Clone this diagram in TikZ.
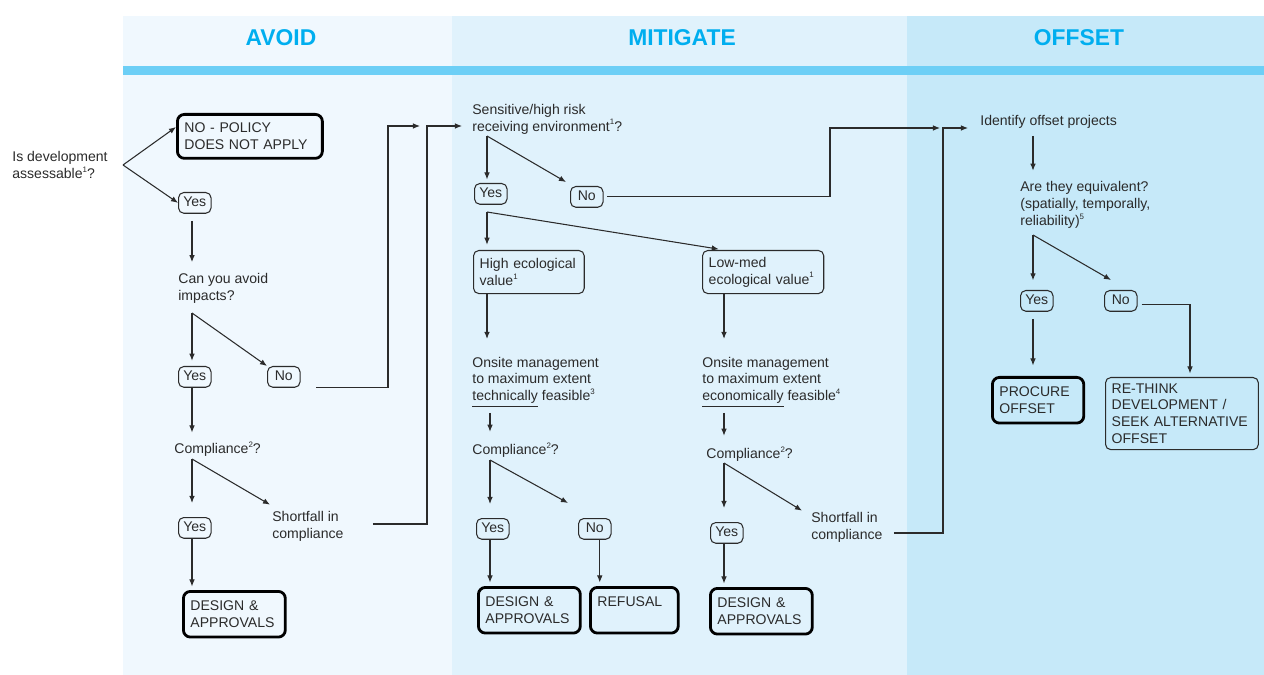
\documentclass[tikz,border=0pt]{standalone}
\usepackage{fontspec}
\setmainfont{Liberation Sans}
\usetikzlibrary{arrows.meta,calc}
\definecolor{avoidbg}{HTML}{F0F8FE}
\definecolor{mitbg}{HTML}{E0F2FC}
\definecolor{offbg}{HTML}{C6E9F9}
\definecolor{stripe}{HTML}{6DCFF6}
\definecolor{headblue}{HTML}{00AEEF}
\definecolor{ink}{HTML}{2B2B2B}
\newcommand{\fnote}[1]{\raisebox{0.85ex}{\fontsize{4.5}{5}\selectfont #1}}

\begin{document}
\begin{tikzpicture}[x=0.02cm,y=-0.02cm,
	every node/.style={font=\fontsize{8}{9.6}\selectfont, text=ink},
	txt/.style={anchor=west, inner sep=0pt, align=left},
	ans/.style={draw=ink, line width=0.6pt, rounded corners=3pt, anchor=north west, inner xsep=2.5pt, inner ysep=2pt, text height=6pt, text depth=1.8pt, minimum width=18.5pt},
	val/.style={draw=ink, line width=0.6pt, rounded corners=3pt, anchor=north west, inner xsep=3.5pt, align=left, minimum height=24.5pt},
	fin/.style={draw=black, line width=1.6pt, rounded corners=4pt, anchor=north west, inner xsep=4pt, align=left, minimum height=26pt},
	head/.style={font=\fontsize{13}{15}\selectfont\bfseries, text=headblue},
	arr/.style={draw=ink, line width=0.6pt, -{Latex[length=4pt,width=3.2pt]}}]
		\useasboundingbox (0,0) rectangle (1264,675);
		% columns
		\fill[avoidbg] (123,16) rectangle (452,675);
		\fill[mitbg] (452,16) rectangle (907,675);
		\fill[offbg] (907,16) rectangle (1264,675);
		\fill[stripe] (123,66) rectangle (1264,75);
		\node[head] (havoid) at (281,38) {AVOID};
		\node[head] (hmit) at (682,38) {MITIGATE};
		\node[head] (hoff) at (1079,38) {OFFSET};

		% avoid
		\node[txt] (isdev) at (12,165) {Is development\\assessable\fnote{1}?};
		\node[fin, text width=74.5pt, minimum height=25pt] (nopol) at (176,113) {NO - POLICY\\DOES NOT APPLY};
		\node[ans] (yes1) at (178,192) {Yes};
		\node[txt] (avq) at (178,288) {Can you avoid\\impacts?};
		\node[ans] (yes2) at (178,366) {Yes};
		\node[ans] (no2) at (267,366) {No};
		\node[txt] (comp1) at (174,449) {Compliance\fnote{2}?};
		\node[ans] (yes3) at (178,517) {Yes};
		\node[txt] (short1) at (272,526) {Shortfall in\\compliance};
		\node[fin, text width=50pt] (des1) at (182,590) {DESIGN \&\\APPROVALS};

		% mitigate
		\node[txt] (sens) at (472,119) {Sensitive/high risk\\receiving environment\fnote{1}?};
		\node[ans] (yes4) at (474,183) {Yes};
		\node[ans] (no4) at (570,186) {No};
		\node[val, text width=56pt] (hiv) at (473,250) {High ecological\\value\fnote{1}};
		\node[val, text width=62pt] (lov) at (702,250) {Low-med\\ecological value\fnote{1}};
		\node[txt] (onhi) at (472,382) {Onsite management\\to maximum extent\\\underline{technically} feasible\fnote{3}};
		\node[txt] (onlo) at (702,382) {Onsite management\\to maximum extent\\\underline{economically} feasible\fnote{4}};
		\node[txt] (comp2) at (472,450) {Compliance\fnote{2}?};
		\node[txt] (comp3) at (706,454) {Compliance\fnote{2}?};
		\node[ans] (yes5) at (476,518) {Yes};
		\node[ans] (no5) at (578,518) {No};
		\node[ans] (yes6) at (710,522) {Yes};
		\node[txt] (short2) at (811,527) {Shortfall in\\compliance};
		\node[fin, text width=50pt] (des2) at (477,586) {DESIGN \&\\APPROVALS};
		\node[fin, text width=42pt] (refu) at (589,586) {REFUSAL\\~};
		\node[fin, text width=50pt] (des3) at (709,587) {DESIGN \&\\APPROVALS};

		% offset
		\node[txt] (ident) at (980,122) {Identify offset projects};
		\node[txt] (equiv) at (1020,205) {Are they equivalent?\\(spatially, temporally,\\reliability)\fnote{5}};
		\node[ans] (yes7) at (1020,290) {Yes};
		\node[ans] (no7) at (1104,290) {No};
		\node[fin, text width=44pt] (proc) at (991,376) {PROCURE\\OFFSET};
		\node[val, text width=80pt, minimum height=40pt] (rethink) at (1105,377) {RE-THINK\\DEVELOPMENT /\\SEEK ALTERNATIVE\\OFFSET};

		\coordinate (f0) at (123,165);
		\coordinate (f1) at (192,313);
		\coordinate (f2) at (192,459);
		\coordinate (f3) at (487,136);
		\coordinate (f4) at (487,212);
		\coordinate (f5) at (490,460);
		\coordinate (f6) at (724,463);
		\coordinate (f7) at (1033,235);
		\coordinate (j1) at (388,126);
		\coordinate (e1) at (420,126);
		\coordinate (j2) at (427,126);
		\coordinate (e2) at (462,126);
		\coordinate (j3) at (830,128);
		\coordinate (e3) at (940,128);
		\coordinate (j4) at (943,128);
		\coordinate (e4) at (968,128);
		\coordinate (j5) at (1190,304);

		\draw[arr] (f0) -- ($(nopol.north west)!0.3!(nopol.south west)$);
		\draw[arr] (f0) -- (yes1.west);
		\draw[arr, shorten <=4pt, shorten >=6pt] (f1 |- yes1.south) -- (f1 |- avq.north);
		\draw[arr, shorten >=3pt] (f1) -- (f1 |- yes2.north);
		\draw[arr] (f1) -- (no2.north west);
		\draw[arr, shorten >=5pt] (f1 |- yes2.south) -- (f1 |- comp1.north);
		\draw[arr, shorten >=8pt] (f2) -- (f2 |- yes3.north);
		\draw[arr] (f2) -- ($(short1.north west)+(-2,-6)$);
		\draw[arr, shorten >=2pt] (f2 |- yes3.south) -- (f2 |- des1.north);
		\draw[arr] ([xshift=9pt]no2.south east) -| (j1) -- (e1);
		\draw[arr] ($(short1.east)+(29,-2)$) -| (j2) -- (e2);

		\draw[arr, shorten >=2pt] (f3) -- (f3 |- yes4.north);
		\draw[arr] (f3) -- ($(no4.north west)+(-4,-4)$);
		\draw[arr] ([xshift=2pt]no4.east) -| (j3) -- (e3);
		\draw[arr, shorten >=3pt] (f4) -- (f4 |- hiv.north);
		\draw[arr, shorten >=3pt] (f4) -- ($(lov.north west)+(22,0)$);
		\draw[arr, shorten >=10pt] (f4 |- hiv.south) -- (f4 |- onhi.north);
		\draw[arr, shorten >=10pt] (f6 |- lov.south) -- (f6 |- onlo.north);
		\draw[arr, shorten <=3pt, shorten >=6pt] (f5 |- onhi.south) -- (f5 |- comp2.north);
		\draw[arr, shorten <=3pt, shorten >=6pt] (f6 |- onlo.south) -- (f6 |- comp3.north);
		\draw[arr, shorten >=8pt] (f5) -- (f5 |- yes5.north);
		\draw[arr] (f5) -- ($(no5.north west)+(-10,-15)$);
		\draw[arr, shorten >=2pt] (f5 |- yes5.south) -- (f5 |- des2.north);
		\draw[arr, shorten >=2pt] ($(no5.south)+(5,0)$) -- ($(no5.south |- refu.north)+(5,0)$);
		\draw[arr, shorten >=8pt] (f6) -- (f6 |- yes6.north);
		\draw[arr] (f6) -- ($(short2.north west)+(-9,-1)$);
		\draw[arr, shorten >=2pt] (f6 |- yes6.south) -- (f6 |- des3.north);
		\draw[arr] ($(short2.east)+(11,6)$) -| (j4) -- (e4);

		\draw[arr, shorten <=4pt, shorten >=6pt] (f7 |- ident.south) -- (f7 |- equiv.north);
		\draw[arr, shorten >=5.5pt] (f7) -- (f7 |- yes7.north);
		\draw[arr] (f7) -- ($(no7.north west)+(7,-10)$);
		\draw[arr, shorten <=4pt, shorten >=6pt] (f7 |- yes7.south) -- (f7 |- proc.north);
		\draw[arr, shorten >=2pt] ($(no7.east)+(4,4)$) -| (j5 |- rethink.north);
\end{tikzpicture}
\end{document}
